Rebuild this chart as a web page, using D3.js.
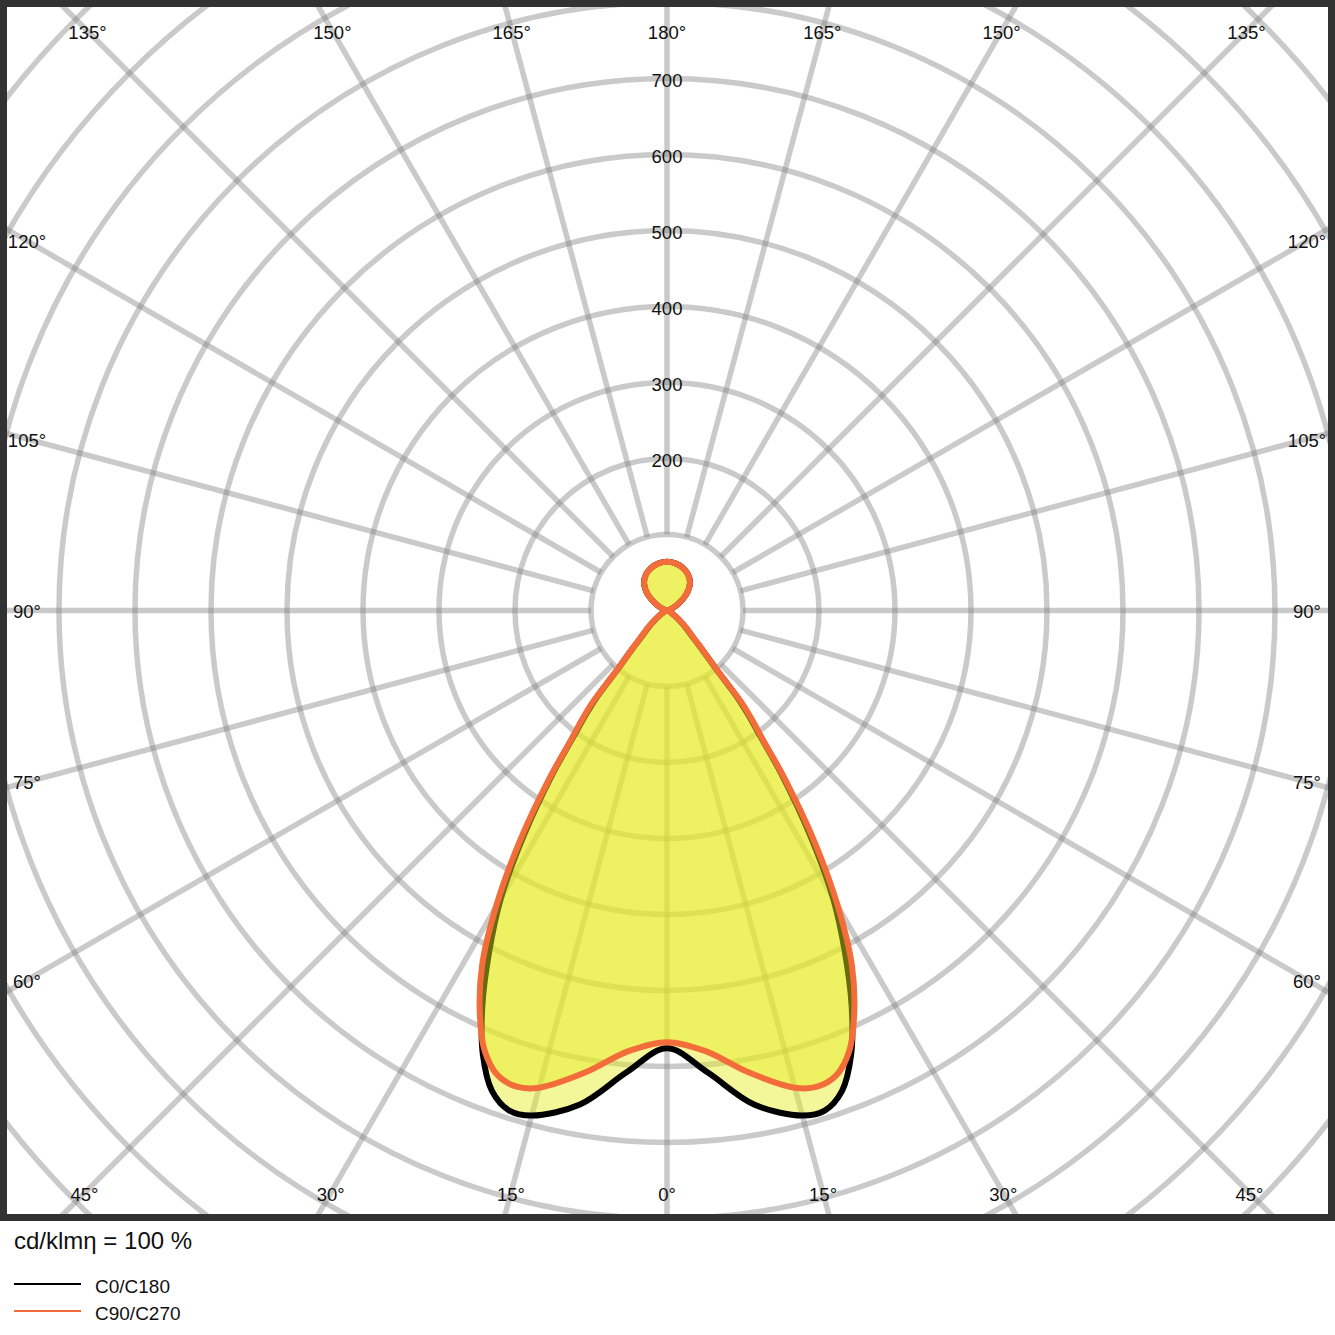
<!DOCTYPE html>
<html>
<head>
<meta charset="utf-8">
<script src="https://cdn.jsdelivr.net/npm/d3@7"></script>
<style>
  html, body { margin: 0; padding: 0; background: #fff; }
  svg { display: block; font-family: "Liberation Sans", Arial, sans-serif; }
</style>
</head>
<body>
<svg id="chart" width="1335" height="1335"></svg>
<script>
// ---- data (cd/klm), gamma measured from nadir (0°) to zenith (180°) ----
const gammaAngles = [0,5,10,15,17.5,20,22.5,25,27.5,30,32.5,35,36.5,38,39,40,42,44,47.5,50,55,60,70,80,90,100,110,120,130,140,150,160,170,180];
const c0c180  = [576,610,660,688,690,673,633,575,507,437,350,262,208,172,146,100,68,48,33,25,13,7,3,1,0,1,5,16,33,47,55,60,63,64];
const c90c270 = [568,582,617,650,657,651,627,583,527,450,362,270,214,180,156,105,72,52,36,28,15,8,3,1,0,1,5,16,33,47,55,60,63,64];
const ringValues = [100,200,300,400,500,600,700,800,900,1000,1100,1200];
const ringLabels = [200,300,400,500,600,700];
const spokeAngles = [0,15,30,45,60,75,90,105,120,135,150,165,180];
const seriesNames = ["C0/C180", "C90/C270"];
const unitLabel = "cd/klmη = 100 %";

// ---- layout ----
const cx = 667, cy = 610.5;
const frame = {x0: 7, y0: 7, x1: 1328, y1: 1214};
const labelBox = {x0: 27, x1: 1307, y0: 31, y1: 1193};
const r = d3.scaleLinear().domain([0, 100]).range([0, 76]);
const gridColor = "rgba(128,128,128,0.42)";
const colors = ["#000000", "#f36d3a"];
const fillColor = "rgba(230,234,30,0.45)";

const svg = d3.select("#chart");
const defs = svg.append("defs");
defs.append("clipPath").attr("id", "plotClip")
  .append("rect").attr("x", frame.x0).attr("y", frame.y0)
  .attr("width", frame.x1 - frame.x0).attr("height", frame.y1 - frame.y0);

const plot = svg.append("g").attr("clip-path", "url(#plotClip)");
const g = plot.append("g").attr("transform", `translate(${cx},${cy})`);

// rings
g.selectAll("circle.ring").data(ringValues).join("circle")
  .attr("class", "ring").attr("r", d => r(d))
  .attr("fill", "none").attr("stroke", gridColor).attr("stroke-width", 5.5);

// spokes (both sides), gamma from nadir
const spokeDirs = [];
spokeAngles.forEach(a => {
  spokeDirs.push({a, side: 1});
  if (a !== 0 && a !== 180) spokeDirs.push({a, side: -1});
});
g.selectAll("line.spoke").data(spokeDirs).join("line")
  .attr("class", "spoke")
  .attr("x1", d => d.side * r(100) * Math.sin(d.a * Math.PI / 180))
  .attr("y1", d => r(100) * Math.cos(d.a * Math.PI / 180))
  .attr("x2", d => d.side * r(1300) * Math.sin(d.a * Math.PI / 180))
  .attr("y2", d => r(1300) * Math.cos(d.a * Math.PI / 180))
  .attr("stroke", gridColor).attr("stroke-width", 5.5);

// curves
function buildPoints(vals) {
  const pts = [];
  for (let i = gammaAngles.length - 1; i >= 0; i--) {
    pts.push([Math.PI + gammaAngles[i] * Math.PI / 180, r(vals[i])]);
  }
  for (let i = 1; i < gammaAngles.length - 1; i++) {
    pts.push([Math.PI - gammaAngles[i] * Math.PI / 180, r(vals[i])]);
  }
  return pts;
}
const radial = d3.lineRadial()
  .angle(d => d[0]).radius(d => d[1])
  .curve(d3.curveCatmullRomClosed.alpha(0.5));

[c0c180, c90c270].forEach((vals, k) => {
  const pts = buildPoints(vals);
  g.append("path").attr("d", radial(pts))
    .attr("fill", fillColor).attr("stroke", "none");
  g.append("path").attr("d", radial(pts))
    .attr("fill", "none").attr("stroke", colors[k])
    .attr("stroke-width", 6).attr("stroke-linejoin", "round");
});

// ring labels
g.selectAll("text.rl").data(ringLabels).join("text")
  .attr("class", "rl")
  .attr("x", 0).attr("y", d => -r(d) + 1.5)
  .attr("text-anchor", "middle").attr("dominant-baseline", "central")
  .attr("font-size", 18.5).attr("fill", "#111")
  .text(d => d);

// frame
svg.append("rect").attr("x", 3.5).attr("y", 3.5)
  .attr("width", 1328).attr("height", 1214)
  .attr("fill", "none").attr("stroke", "#323232").attr("stroke-width", 7);

// angle labels at intersection of spokes with label box
function labelPos(a, side) {
  const rad = a * Math.PI / 180;
  const dx = side * Math.sin(rad), dy = Math.cos(rad);
  let t = Infinity;
  if (dx > 1e-9) t = Math.min(t, (labelBox.x1 - cx) / dx);
  if (dx < -1e-9) t = Math.min(t, (labelBox.x0 - cx) / dx);
  if (dy > 1e-9) t = Math.min(t, (labelBox.y1 - cy) / dy);
  if (dy < -1e-9) t = Math.min(t, (labelBox.y0 - cy) / dy);
  return [cx + dx * t, cy + dy * t];
}
svg.append("g").selectAll("text").data(spokeDirs).join("text")
  .attr("x", d => labelPos(d.a, d.side)[0])
  .attr("y", d => labelPos(d.a, d.side)[1] + 1)
  .attr("text-anchor", "middle").attr("dominant-baseline", "central")
  .attr("font-size", 18.5).attr("fill", "#111")
  .text(d => d.a + "°");

// unit label
svg.append("text").attr("x", 14).attr("y", 1249)
  .attr("font-size", 24).attr("fill", "#111").text(unitLabel);

// legend
const leg = svg.append("g");
seriesNames.forEach((name, k) => {
  const y = 1284 + k * 27;
  leg.append("line").attr("x1", 14).attr("x2", 81).attr("y1", y).attr("y2", y)
    .attr("stroke", colors[k]).attr("stroke-width", 2);
  leg.append("text").attr("x", 95).attr("y", y + 9)
    .attr("font-size", 19).attr("fill", "#111").text(name);
});
</script>
</body>
</html>
